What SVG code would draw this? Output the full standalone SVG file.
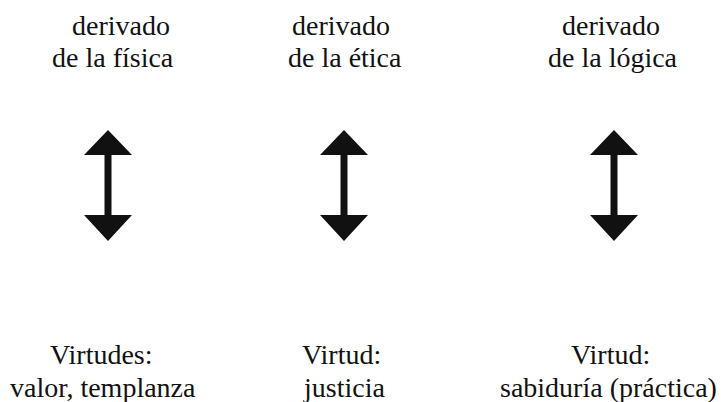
<svg xmlns="http://www.w3.org/2000/svg" width="727" height="402" viewBox="0 0 727 402">
<rect width="727" height="402" fill="#fff"/>
<g id="top1" font-family="Liberation Serif, Times New Roman, serif" font-size="28" fill="#111"><text x="72" y="35">derivado</text><text x="52" y="67">de la física</text></g>
<g id="top2" font-family="Liberation Serif, Times New Roman, serif" font-size="28" fill="#111"><text x="292" y="35">derivado</text><text x="288" y="67">de la ética</text></g>
<g id="top3" font-family="Liberation Serif, Times New Roman, serif" font-size="28" fill="#111"><text x="562" y="35">derivado</text><text x="548" y="67">de la lógica</text></g>
<g id="connectors" fill="#111">
<path d="M108,130 L132,155 L111.5,155 L111.5,215 L132,215 L108,241 L84,215 L104.5,215 L104.5,155 L84,155 Z"/>
<path d="M344,130 L368,155 L347.5,155 L347.5,215 L368,215 L344,241 L320,215 L340.5,215 L340.5,155 L320,155 Z"/>
<path d="M614,130 L638,155 L617.5,155 L617.5,215 L638,215 L614,241 L590,215 L610.5,215 L610.5,155 L590,155 Z"/>
</g>
<g id="bot1" font-family="Liberation Serif, Times New Roman, serif" font-size="28" fill="#111"><text x="50" y="364">Virtudes:</text><text x="10" y="397">valor, templanza</text></g>
<g id="bot2" font-family="Liberation Serif, Times New Roman, serif" font-size="28" fill="#111"><text x="302" y="364">Virtud:</text><text x="304" y="397">justicia</text></g>
<g id="bot3" font-family="Liberation Serif, Times New Roman, serif" font-size="28" fill="#111"><text x="571" y="364">Virtud:</text><text x="500" y="397">sabiduría (práctica)</text></g>
</svg>
